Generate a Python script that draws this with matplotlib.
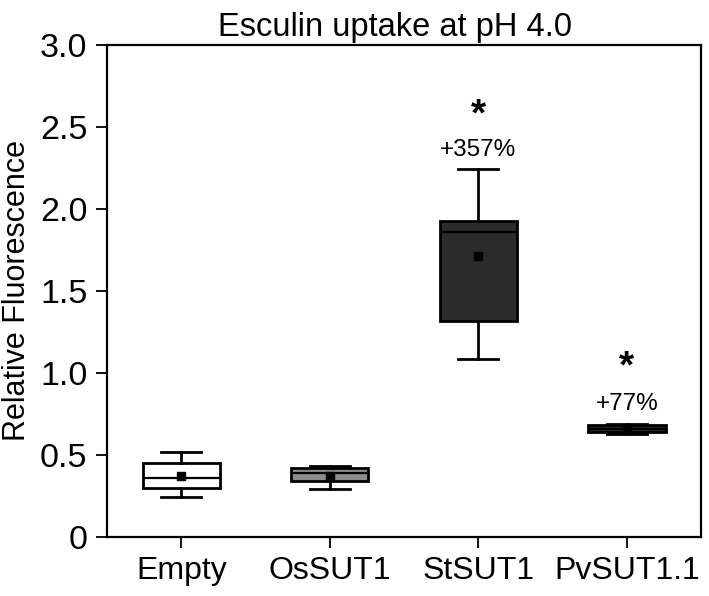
import matplotlib
matplotlib.use("Agg")
import matplotlib.pyplot as plt

plt.rcParams['font.family'] = ['Liberation Sans', 'DejaVu Sans']

groups = ["Empty", "OsSUT1", "StSUT1", "PvSUT1.1"]
whislo = [0.245, 0.292, 1.084, 0.625]
q1 = [0.300, 0.343, 1.315, 0.641]
med = [0.357, 0.388, 1.859, 0.660]
q3 = [0.452, 0.422, 1.924, 0.682]
whishi = [0.520, 0.432, 2.243, 0.690]
means = [0.371, 0.371, 1.713, 0.660]
fills = ["white", "#8c8c8c", "#2b2b2b", "#2b2b2b"]

# annotations over significant groups
ann_idx = [2, 3]
ann_text = ["+357%", "+77%"]
ann_y = [2.36, 0.81]
star_y = [2.57, 1.03]

fig = plt.figure(figsize=(7.09, 5.96), dpi=100)
ax = fig.add_axes([0.151, 0.099, 0.838, 0.826])

stats = []
for i in range(len(groups)):
    stats.append({"whislo": whislo[i], "q1": q1[i], "med": med[i], "q3": q3[i],
                  "whishi": whishi[i], "mean": means[i], "fliers": [], "label": groups[i]})

pos = list(range(1, len(groups) + 1))
bp = ax.bxp(stats, positions=pos, widths=0.52, patch_artist=True, showmeans=True,
            boxprops=dict(linewidth=2, edgecolor="black"),
            medianprops=dict(color="black", linewidth=1.6),
            whiskerprops=dict(linewidth=2, color="black"),
            capprops=dict(linewidth=2, color="black"),
            capwidths=0.27,
            meanprops=dict(marker="s", markerfacecolor="black", markeredgecolor="black", markersize=6))
for patch, c in zip(bp["boxes"], fills):
    patch.set_facecolor(c)

for i, t, y, s in zip(ann_idx, ann_text, ann_y, star_y):
    ax.text(pos[i], y, t, ha="center", va="center", fontsize=17.5)
    ax.text(pos[i], s, "*", ha="center", va="center", fontsize=28, fontweight="bold")

ax.set_xlim(0.5, 4.5)
ax.set_ylim(0, 3.0)
ax.set_yticks([0, 0.5, 1.0, 1.5, 2.0, 2.5, 3.0])
ax.set_yticklabels(["0", "0.5", "1.0", "1.5", "2.0", "2.5", "3.0"], fontsize=24.5)
ax.set_xticks(pos)
ax.set_xticklabels(groups, fontsize=23)
ax.tick_params(direction="out", length=8, width=1.3, pad=6)
ax.set_ylabel("Relative Fluorescence", fontsize=22, labelpad=6)
ax.set_title("Esculin uptake at pH 4.0", fontsize=23.5, pad=6, x=0.485)
for sp in ax.spines.values():
    sp.set_linewidth(1.6)

fig.savefig("out.png", dpi=100)
